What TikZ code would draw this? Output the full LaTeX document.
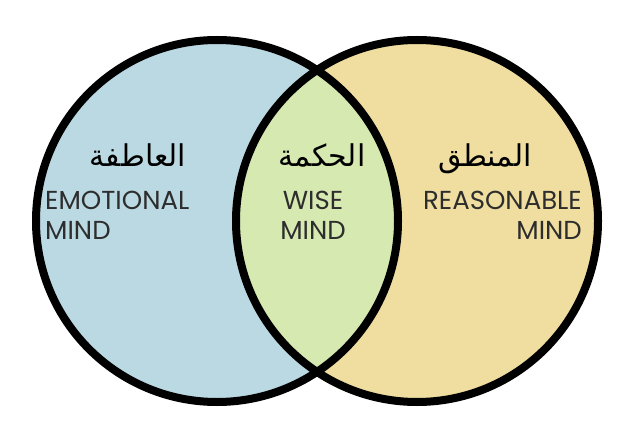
\documentclass[tikz,border=0pt]{standalone}
\usepackage{fontspec}
\setmainfont{Poppins}
\newfontfamily\arabicfont[Script=Arabic]{DejaVu Sans}
\TeXXeTstate=1
\definecolor{emoblue}{RGB}{187,217,226}
\definecolor{wisegreen}{RGB}{214,233,176}
\definecolor{reasyellow}{RGB}{240,222,160}
\definecolor{txtgray}{RGB}{45,45,45}
\begin{document}
\begin{tikzpicture}[x=1pt,y=-1pt,
  ring/.style={draw=black,line width=8pt},
  lbl/.style={inner sep=0pt,font=\fontsize{26}{26}\selectfont,text=txtgray},
  ar/.style={inner sep=0pt,font=\arabicfont\fontsize{30}{30}\selectfont,text=black}]
\useasboundingbox (0,0) rectangle (636,430);
\coordinate (cl) at (217,221);
\coordinate (cr) at (417,221);
\fill[emoblue] (cl) circle[radius=181];
\fill[reasyellow] (cr) circle[radius=181];
\begin{scope}
  \clip (cl) circle[radius=181];
  \fill[wisegreen] (cr) circle[radius=181];
\end{scope}
\draw[ring] (cl) circle[radius=181];
\draw[ring] (cr) circle[radius=181];
% left
\node[ar,anchor=base] (arl) at (138,167) {\beginR العاطفة\endR};
\node[lbl,anchor=base west] (emo) at (45,210) {EMOTIONAL};
\node[lbl,anchor=base west] (mindl) at (45,239) {MIND};
% middle
\node[ar,anchor=base] (arm) at (322,167) {\beginR الحكمة\endR};
\node[lbl,anchor=base] (wise) at (313,210) {WISE};
\node[lbl,anchor=base] (mindm) at (313,239) {MIND};
% right
\node[ar,anchor=base] (arr) at (485,167) {\beginR المنطق\endR};
\node[lbl,anchor=base east] (reas) at (582,210) {REASONABLE};
\node[lbl,anchor=base east] (mindr) at (582,239) {MIND};
\end{tikzpicture}
\end{document}
